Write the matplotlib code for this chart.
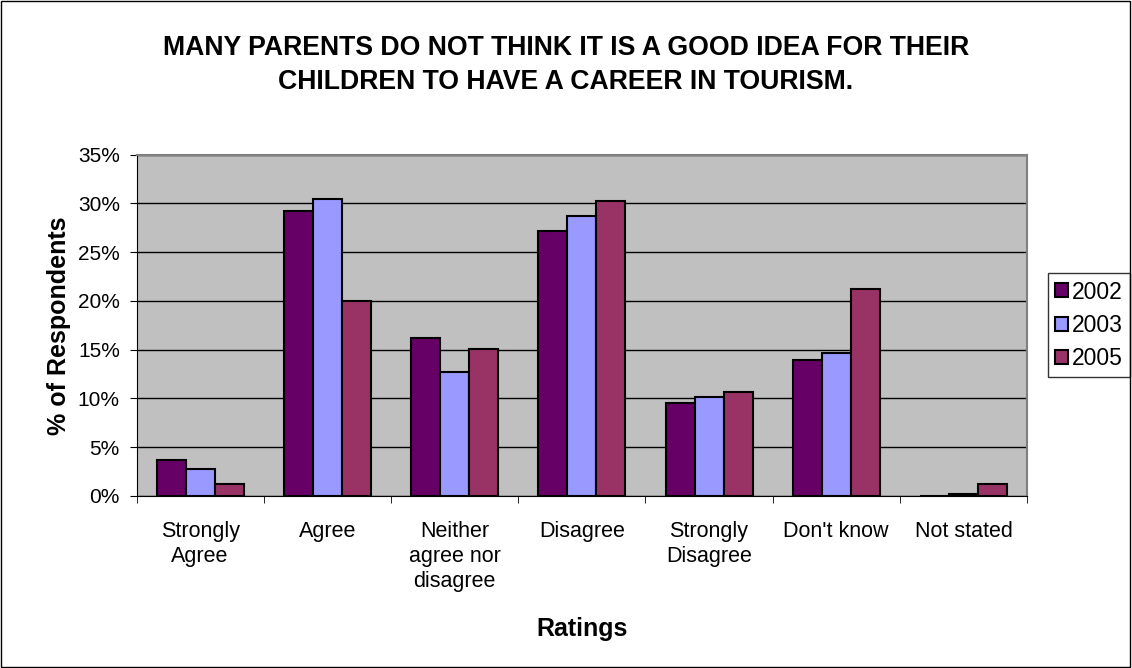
import numpy as np
import matplotlib.pyplot as plt
from matplotlib.patches import Rectangle
from matplotlib.ticker import FuncFormatter, FixedLocator

plt.rcParams['font.family'] = ['Liberation Sans', 'DejaVu Sans']

# === Data ===
categories = ["Strongly\nAgree", "Agree", "Neither\nagree nor\ndisagree", "Disagree",
              "Strongly\nDisagree", "Don't know", "Not stated"]
years = ["2002", "2003", "2005"]
v2002 = [3.7, 29.2, 16.2, 27.2, 9.5, 13.9, 0.0]
v2003 = [2.8, 30.5, 12.7, 28.7, 10.2, 14.7, 0.2]
v2005 = [1.2, 20.0, 15.1, 30.2, 10.7, 21.2, 1.2]
colors = ["#660066", "#9999FF", "#993366"]

fig = plt.figure(figsize=(11.32, 6.68), dpi=100)
ax = fig.add_axes([0.1206, 0.2575, 0.7867, 0.511])
ax.set_facecolor("#C0C0C0")

x = np.arange(len(categories))
w = 0.228
for i, (vals, yr) in enumerate(zip([v2002, v2003, v2005], years)):
    ax.bar(x + (i - 1) * w, vals, w, color=colors[i], edgecolor="black",
           linewidth=1.5, label=yr, zorder=3)

ax.set_xlim(-0.5, len(categories) - 0.5)
ax.set_ylim(0, 35)
ax.set_yticks(np.arange(0, 36, 5))
ax.yaxis.set_major_formatter(FuncFormatter(lambda v, p: f"{v:.0f}%"))
ax.grid(axis="y", color="black", linewidth=1, zorder=1)
ax.set_axisbelow(True)

# category labels centred, tick marks between categories
ax.set_xticks(x)
ax.set_xticklabels(categories, fontsize=15.5, va="top", linespacing=1.25)
ax.tick_params(axis="x", which="major", length=0, pad=18)
ax.xaxis.set_minor_locator(FixedLocator(np.arange(-0.5, len(categories), 1)))
ax.tick_params(axis="x", which="minor", length=5, color="black")
ax.tick_params(axis="y", labelsize=15, length=5, pad=7, color="black")

for s in ["top", "right"]:
    ax.spines[s].set_color("#808080")
    ax.spines[s].set_linewidth(1.5)
for s in ["left", "bottom"]:
    ax.spines[s].set_color("black")

ax.set_xlabel("Ratings", fontsize=18, fontweight="bold", labelpad=18)
ax.set_ylabel("% of Respondents", fontsize=18, fontweight="bold", labelpad=5)

fig.text(0.5, 0.903, "MANY PARENTS DO NOT THINK IT IS A GOOD IDEA FOR THEIR\n"
         "CHILDREN TO HAVE A CAREER IN TOURISM.", ha="center", va="center",
         fontsize=19.2, fontweight="bold", linespacing=1.42)

leg = ax.legend(loc="center left", bbox_to_anchor=(1.0236, 0.50), fontsize=16.5,
                frameon=True, fancybox=False, edgecolor="black",
                handlelength=0.55, handleheight=0.55, handletextpad=0.15,
                borderpad=0.32, labelspacing=0.45, borderaxespad=0)
leg.get_frame().set_linewidth(1)

fig.add_artist(Rectangle((0.0005, 0.001), 0.998, 0.997, transform=fig.transFigure,
                         fill=False, edgecolor="black", linewidth=1))

fig.savefig("out.png", dpi=100)
